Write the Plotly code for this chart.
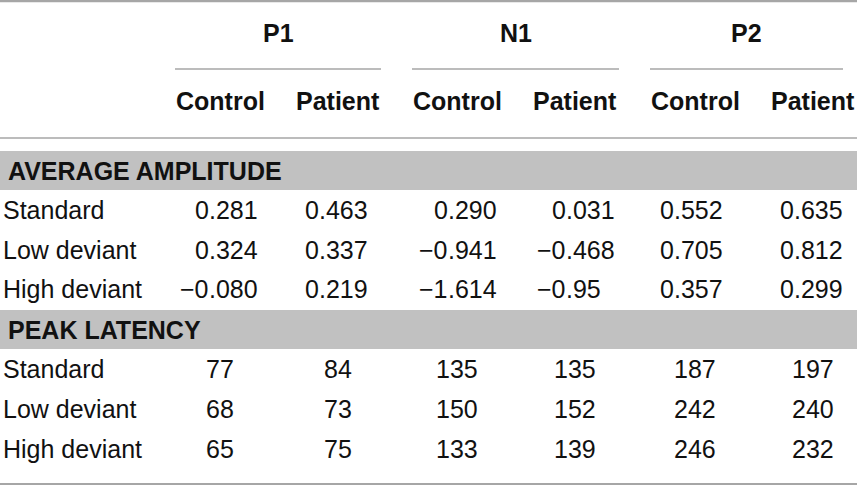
import plotly.graph_objects as go

# --- table content -------------------------------------------------------
components = ["P1", "N1", "P2"]
groups = ["Control", "Patient"]
conditions = ["Standard", "Low deviant", "High deviant"]

amp_section = "AVERAGE AMPLITUDE"
amp_standard = ["0.281", "0.463", "0.290", "0.031", "0.552", "0.635"]
amp_low = ["0.324", "0.337", "\u22120.941", "\u22120.468", "0.705", "0.812"]
amp_high = ["\u22120.080", "0.219", "\u22121.614", "\u22120.95", "0.357", "0.299"]

lat_section = "PEAK LATENCY"
lat_standard = [77, 84, 135, 135, 187, 197]
lat_low = [68, 73, 150, 152, 242, 240]
lat_high = [65, 75, 133, 139, 246, 232]

# --- layout constants (pixels) --------------------------------------------
W, H = 857, 485
col_x = [220, 338, 457, 575, 695, 813]       # column centres
dec_x = [209, 319, 448, 566, 674, 794]       # decimal point positions
rule_spans = [(175, 381), (412, 619), (650, 843)]
y_comp, y_group = 33, 101
y_amp_band, y_lat_band = (151, 190), (310, 349)
y_amp_rows = [210, 250, 289]
y_lat_rows = [369, 409, 449]

FONT = "Liberation Sans, Arial, Helvetica, sans-serif"
TXT = "#111111"
RULE = "#a6a6a6"
BAND = "#c1c1c1"

fig = go.Figure()
annotations = []
shapes = []


def add_text(x, y, text, anchor="center", bold=False, size=25):
    if bold:
        text = "<b>" + text + "</b>"
    annotations.append(dict(x=x, y=y, text=text, xref="x", yref="y",
                            xanchor=anchor, yanchor="middle", showarrow=False,
                            borderpad=0, borderwidth=0,
                            font=dict(family=FONT, size=size, color=TXT)))


def add_rule(x0, x1, y, width=1.5):
    shapes.append(dict(type="line", x0=x0, x1=x1, y0=y, y1=y, xref="x", yref="y",
                       line=dict(color=RULE, width=width)))


# header
add_rule(0, W, 1, width=2.5)
for i, comp in enumerate(components):
    x0, x1 = rule_spans[i]
    add_text((x0 + x1) / 2, y_comp, comp, bold=True)
    add_rule(x0, x1, 69)
    for j, g in enumerate(groups):
        add_text(col_x[2 * i + j], y_group, g, bold=True)
add_rule(0, W, 138)

# section bands
for (b0, b1), title in [(y_amp_band, amp_section), (y_lat_band, lat_section)]:
    shapes.append(dict(type="rect", x0=0, x1=W, y0=b0, y1=b1, xref="x", yref="y",
                       fillcolor=BAND, line=dict(width=0), layer="below"))
    add_text(8, (b0 + b1) / 2, title, anchor="left", bold=True)

# amplitude rows, aligned on the decimal point
for y, label, row in zip(y_amp_rows, conditions, [amp_standard, amp_low, amp_high]):
    add_text(3, y, label, anchor="left")
    for k, val in enumerate(row):
        whole, frac = val.split(".")
        add_text(dec_x[k], y, whole, anchor="right")
        add_text(dec_x[k], y, "." + frac, anchor="left")

# latency rows, centred
for y, label, row in zip(y_lat_rows, conditions, [lat_standard, lat_low, lat_high]):
    add_text(3, y, label, anchor="left")
    for k, val in enumerate(row):
        add_text(col_x[k], y, str(val))

add_rule(0, W, 484, width=2)

fig.update_layout(
    width=W, height=H,
    margin=dict(l=0, r=0, t=0, b=0),
    paper_bgcolor="white", plot_bgcolor="white",
    xaxis=dict(range=[0, W], visible=False, fixedrange=True),
    yaxis=dict(range=[H, 0], visible=False, fixedrange=True),
    showlegend=False,
    annotations=annotations,
    shapes=shapes,
)

# drop the default page margin so the figure sits at the window's corner
fig.write_html("out.html", config={"displayModeBar": False},
               post_script="document.body.style.margin='0';")
